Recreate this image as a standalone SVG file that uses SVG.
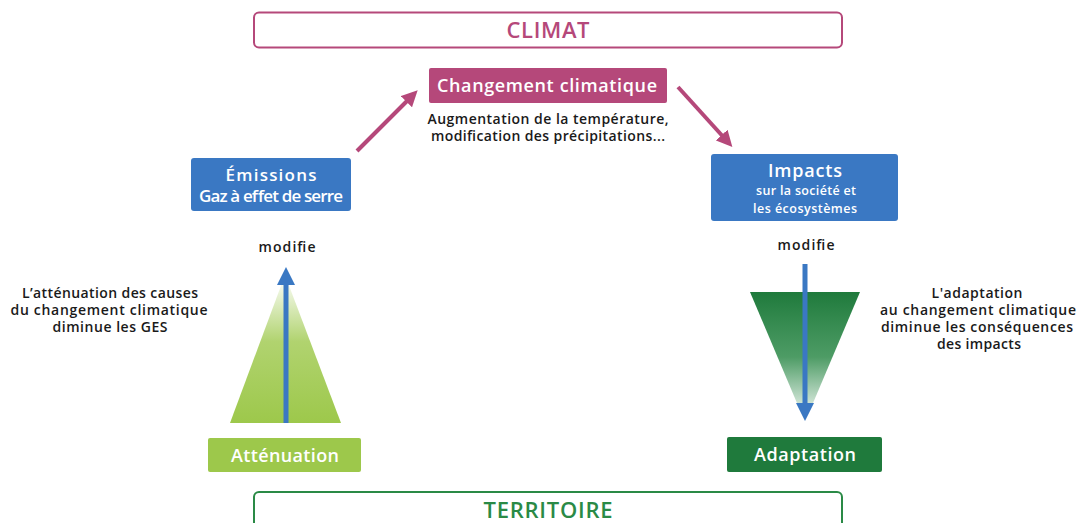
<svg xmlns="http://www.w3.org/2000/svg" width="1077" height="523" viewBox="0 0 1077 523">
<style>
text{font-family:"Open Sans","Noto Sans","Liberation Sans",sans-serif;text-anchor:middle;}
.w{fill:#ffffff;font-weight:600;}
.d{fill:#1a1a1a;font-weight:600;font-size:14px;}
.pink{stroke:#b5487a;stroke-width:4;fill:none;}
.blue{stroke:#3a78c3;stroke-width:5;fill:none;}
</style>
<defs>
<linearGradient id="gL" x1="0" y1="0" x2="0" y2="1">
<stop offset="0" stop-color="#9dc84b" stop-opacity="0"/>
<stop offset="0.45" stop-color="#9dc84b" stop-opacity="0.8"/>
<stop offset="1" stop-color="#9dc84b"/>
</linearGradient>
<linearGradient id="gR" x1="0" y1="0" x2="0" y2="1">
<stop offset="0" stop-color="#1f7a3c"/>
<stop offset="0.5" stop-color="#2e8a4a" stop-opacity="0.85"/>
<stop offset="1" stop-color="#2e8a4a" stop-opacity="0"/>
</linearGradient>
<marker id="mp" markerWidth="4" markerHeight="4" refX="2" refY="2" orient="auto" markerUnits="strokeWidth">
<path d="M0,0 L4,2 L0,4 z" fill="#b5487a"/>
</marker>
<marker id="mb" markerWidth="3.6" markerHeight="3.6" refX="1.6" refY="1.8" orient="auto" markerUnits="strokeWidth">
<path d="M0,0 L3.6,1.8 L0,3.6 z" fill="#3a78c3"/>
</marker>
</defs>

<g id="climat">
<rect x="254" y="12.5" width="588" height="35" rx="5" fill="#fff" stroke="#b5487a" stroke-width="2"/>
<text x="548" y="38" font-size="22" font-weight="600" fill="#b5487a" textLength="83">CLIMAT</text>
</g>

<g id="changement">
<rect x="429" y="68" width="238" height="35" rx="2" fill="#b5487a"/>
<text class="w" x="547" y="92" font-size="18" textLength="220">Changement climatique</text>
<text class="d" x="548" y="124" textLength="241">Augmentation de la température,</text>
<text class="d" x="548" y="141" textLength="234">modification des précipitations...</text>
</g>

<g id="emissions">
<rect x="191" y="158" width="160" height="53" rx="3" fill="#3a78c3"/>
<text class="w" x="271" y="181" font-size="17" textLength="91">Émissions</text>
<text class="w" x="271" y="202" font-size="17" textLength="144">Gaz à effet de serre</text>
</g>

<g id="impacts">
<rect x="711" y="154" width="187" height="67" rx="3" fill="#3a78c3"/>
<text class="w" x="805" y="177" font-size="18" textLength="74">Impacts</text>
<text class="w" x="806" y="195" font-size="12.5" textLength="100">sur la société et</text>
<text class="w" x="805" y="213" font-size="12.5" textLength="104">les écosystèmes</text>
</g>

<g id="attenuation-triangle">
<polygon points="285,275 341,423 230,423" fill="url(#gL)"/>
<text class="d" x="287" y="252" font-size="15" textLength="57">modifie</text>
<text class="d" x="110" y="298" textLength="176">L’atténuation des causes</text>
<text class="d" x="109" y="315" textLength="197">du changement climatique</text>
<text class="d" x="110" y="332" textLength="115">diminue les GES</text>
</g>

<g id="adaptation-triangle">
<polygon points="750,292 860,292 805,422" fill="url(#gR)"/>
<text class="d" x="806" y="250" font-size="15" textLength="57">modifie</text>
<text class="d" x="977" y="298" textLength="91">L'adaptation</text>
<text class="d" x="978" y="315" textLength="196">au changement climatique</text>
<text class="d" x="977" y="332" textLength="192">diminue les conséquences</text>
<text class="d" x="979" y="349" textLength="84">des impacts</text>
</g>

<g id="attenuation">
<rect x="208" y="438" width="153" height="34" rx="2" fill="#9dc84b"/>
<text class="w" x="285" y="462" font-size="18" textLength="108">Atténuation</text>
</g>

<g id="adaptation">
<rect x="727" y="437" width="155" height="35" rx="2" fill="#1f7a3c"/>
<text class="w" x="805" y="461" font-size="18" textLength="102">Adaptation</text>
</g>

<g id="territoire">
<rect x="254" y="492" width="588" height="40" rx="5" fill="#fff" stroke="#2a8a46" stroke-width="2"/>
<text x="548" y="518" font-size="22" font-weight="600" fill="#2a8a46" textLength="129">TERRITOIRE</text>
</g>

<g id="connectors">
<line class="pink" x1="357" y1="151" x2="412" y2="96" marker-end="url(#mp)"/>
<line class="pink" x1="678" y1="87" x2="727" y2="141" marker-end="url(#mp)"/>
<line class="blue" x1="286" y1="423" x2="286" y2="277" marker-end="url(#mb)"/>
<line class="blue" x1="805" y1="264" x2="805" y2="411" marker-end="url(#mb)"/>
</g>
</svg>
